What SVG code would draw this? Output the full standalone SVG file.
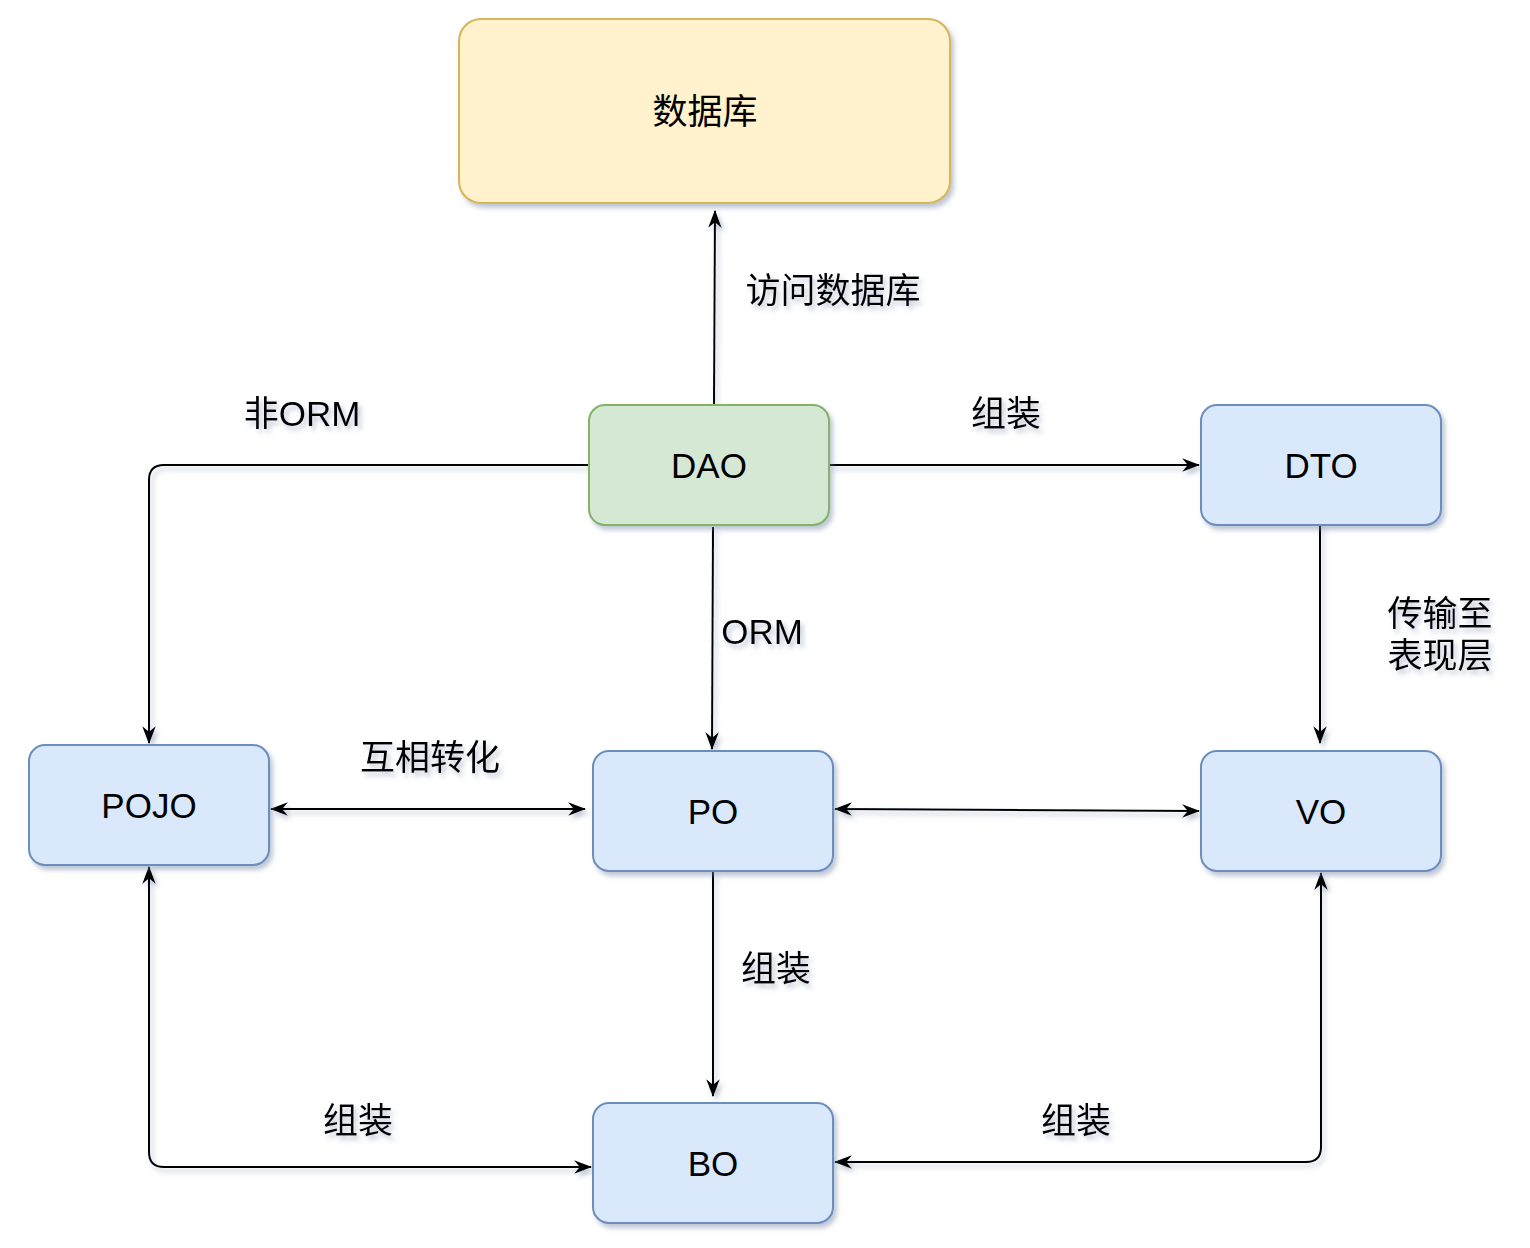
<svg xmlns="http://www.w3.org/2000/svg" width="1530" height="1248" viewBox="0 0 1530 1248">
<defs>
<filter id="sh" filterUnits="userSpaceOnUse" x="0" y="0" width="1530" height="1248">
<feDropShadow dx="3" dy="4" stdDeviation="2.5" flood-color="#7080a0" flood-opacity="0.45"/>
</filter>
<marker id="arr" viewBox="0 0 16 12" refX="15" refY="6" markerWidth="9" markerHeight="6.75" markerUnits="strokeWidth" orient="auto-start-reverse">
<path d="M0,0 L16,6 L0,12 L5,6 Z" fill="#000"/>
</marker>
<style>
.n{stroke-width:2;filter:url(#sh)}
.blue{fill:#dae8fc;stroke:#6c8ebf}
.t{font-family:"Liberation Sans","Noto Sans CJK SC",sans-serif;font-size:35px;fill:#000;text-anchor:middle;dominant-baseline:central}
.lbl{filter:url(#sh)}
.c{fill:none;stroke:#000;stroke-width:2}
</style>
</defs>
<rect width="1530" height="1248" fill="#fff"/>
<g id="connectors" filter="url(#sh)">
<path class="c" d="M714,405 L715,211" marker-end="url(#arr)"/>
<path class="c" d="M589,465 L164,465 Q149,465 149,480 L149,743" marker-end="url(#arr)"/>
<path class="c" d="M829,465 L1199,465" marker-end="url(#arr)"/>
<path class="c" d="M713,527 L712,749" marker-end="url(#arr)"/>
<path class="c" d="M1320,520 L1320,743" marker-end="url(#arr)"/>
<path class="c" d="M271,809 L585,809" marker-start="url(#arr)" marker-end="url(#arr)"/>
<path class="c" d="M835,809 L1199,811" marker-start="url(#arr)" marker-end="url(#arr)"/>
<path class="c" d="M713,871 L713,1096" marker-end="url(#arr)"/>
<path class="c" d="M149,867 L149,1152 Q149,1167 164,1167 L591,1167" marker-start="url(#arr)" marker-end="url(#arr)"/>
<path class="c" d="M835,1162 L1306,1162 Q1321,1162 1321,1147 L1321,873" marker-start="url(#arr)" marker-end="url(#arr)"/>
</g>
<g id="labels" class="lbl">
<text class="t" x="833" y="290">访问数据库</text>
<text class="t" x="302" y="413">非ORM</text>
<text class="t" x="1006" y="413">组装</text>
<text class="t" x="762" y="631">ORM</text>
<text class="t" x="1440" y="613">传输至</text>
<text class="t" x="1440" y="655">表现层</text>
<text class="t" x="430" y="757">互相转化</text>
<text class="t" x="776" y="968">组装</text>
<text class="t" x="358" y="1120">组装</text>
<text class="t" x="1076" y="1120">组装</text>
</g>
<g id="db">
<rect class="n" x="459" y="19" width="491" height="184" rx="22" fill="#fff2cc" stroke="#d6b656"/>
<text class="t" x="705" y="111">数据库</text>
</g>
<g id="dao">
<rect class="n" x="589" y="405" width="240" height="120" rx="16" fill="#d5e8d4" stroke="#82b366"/>
<text class="t" x="709" y="465">DAO</text>
</g>
<g id="dto">
<rect class="n blue" x="1201" y="405" width="240" height="120" rx="16"/>
<text class="t" x="1321" y="465">DTO</text>
</g>
<g id="pojo">
<rect class="n blue" x="29" y="745" width="240" height="120" rx="16"/>
<text class="t" x="149" y="805">POJO</text>
</g>
<g id="po">
<rect class="n blue" x="593" y="751" width="240" height="120" rx="16"/>
<text class="t" x="713" y="811">PO</text>
</g>
<g id="vo">
<rect class="n blue" x="1201" y="751" width="240" height="120" rx="16"/>
<text class="t" x="1321" y="811">VO</text>
</g>
<g id="bo">
<rect class="n blue" x="593" y="1103" width="240" height="120" rx="16"/>
<text class="t" x="713" y="1163">BO</text>
</g>
</svg>
